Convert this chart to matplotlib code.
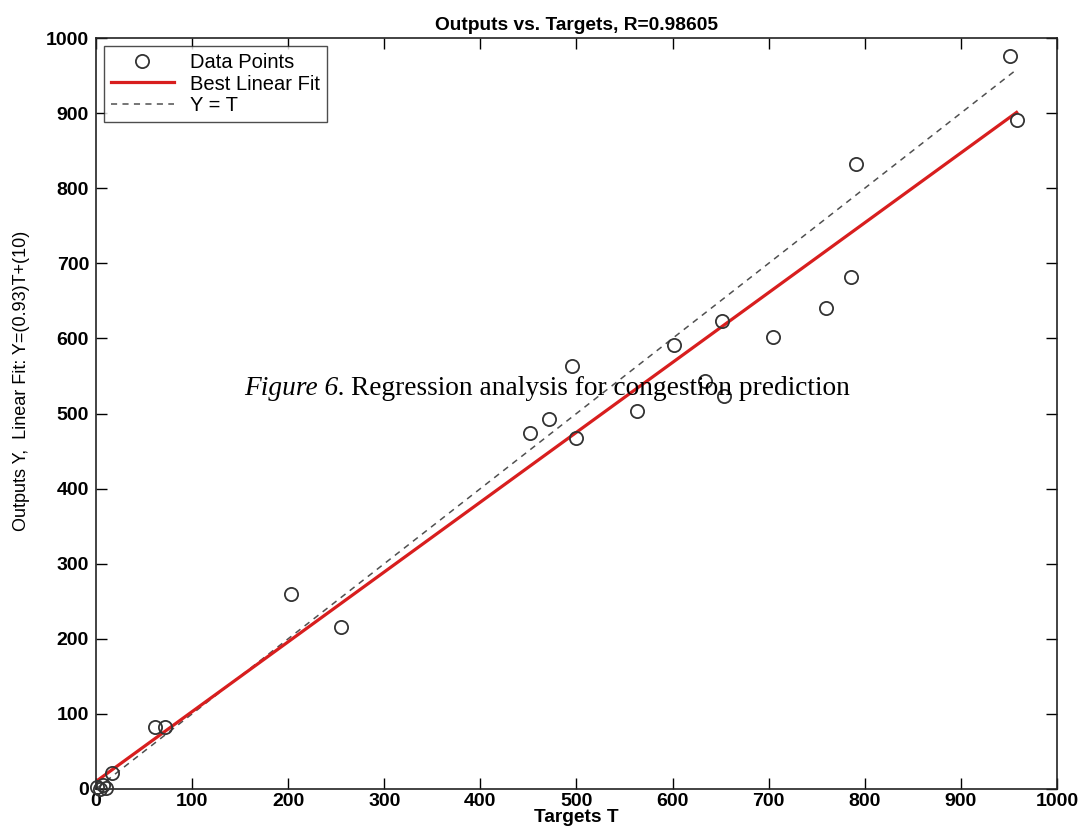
import matplotlib
matplotlib.use("Agg")
import matplotlib.pyplot as plt
import numpy as np

# values
targets = [1, 4, 7, 10, 17, 61, 72, 203, 255, 452, 471, 495, 500, 563, 602,
           634, 651, 654, 705, 760, 786, 791, 951, 958]
outputs = [3, 0, 5, 1, 21, 83, 83, 260, 216, 474, 493, 563, 467, 503, 591,
           543, 623, 523, 602, 640, 682, 832, 976, 891]
fit_slope = 0.93
fit_offset = 10
r_value = "0.98605"
ticks = [0, 100, 200, 300, 400, 500, 600, 700, 800, 900, 1000]

plt.rcParams['font.family'] = ['Liberation Sans', 'DejaVu Sans']

fig = plt.figure(figsize=(10.92, 8.32), dpi=100)
ax = fig.add_axes([0.0879, 0.0517, 0.8800, 0.9026])

t_range = np.array([min(targets), max(targets)])
ax.plot(targets, outputs, linestyle='none', marker='o', markersize=9.5,
        markerfacecolor='none', markeredgecolor='#333333', markeredgewidth=1.3,
        label='Data Points', clip_on=False, zorder=3)
ax.plot(t_range, fit_slope * t_range + fit_offset, color='#d81e1e', linewidth=2.3,
        label='Best Linear Fit', zorder=2)
ax.plot(t_range, t_range, color='#505050', linewidth=1.1, linestyle=(0, (4, 3.5)),
        label='Y = T', zorder=1)

ax.set_xlim(0, 1000)
ax.set_ylim(0, 1000)
ax.set_xticks(ticks)
ax.set_yticks(ticks)
ax.tick_params(direction='in', length=8, width=1.0, top=True, right=True,
               labelsize=14)
ax.tick_params(axis='x', pad=3)
ax.tick_params(axis='y', pad=5)
for lab in ax.get_xticklabels() + ax.get_yticklabels():
    lab.set_fontweight('bold')
for sp in ax.spines.values():
    sp.set_linewidth(1.2)
    sp.set_color('#222222')

ax.set_title(f"Outputs vs. Targets, R={r_value}", fontsize=13.8, fontweight='bold', pad=6)
ax.set_xlabel("Targets T", fontsize=13.8, fontweight='bold', labelpad=-1)
ax.set_ylabel("Outputs Y,  Linear Fit: Y=(0.93)T+(10)", fontsize=13,
              family=['Liberation Sans Narrow', 'Liberation Sans'])
ax.yaxis.set_label_coords(-0.069, 0.543)

leg = ax.legend(loc='upper left', fontsize=14.5, frameon=True, fancybox=False,
                borderpad=0.35, labelspacing=0.12, handlelength=3.1,
                handletextpad=0.8, borderaxespad=0.4)
leg.get_frame().set_edgecolor('#222222')
leg.get_frame().set_linewidth(1.0)

# caption that sits over the plot in the source image
cap1 = fig.text(244 / 1092, 1 - 389 / 832, "Figure 6.", fontsize=19.7, style='italic',
                family=['Liberation Serif', 'DejaVu Serif'], va='center', ha='left')
fig.canvas.draw()
bb = cap1.get_window_extent()
x2 = (bb.x1 + 6) / fig.bbox.width
fig.text(x2, 1 - 389 / 832, "Regression analysis for congestion prediction", fontsize=19.7,
         family=['Liberation Serif', 'DejaVu Serif'], va='center', ha='left')

fig.savefig("out.png", dpi=100)
